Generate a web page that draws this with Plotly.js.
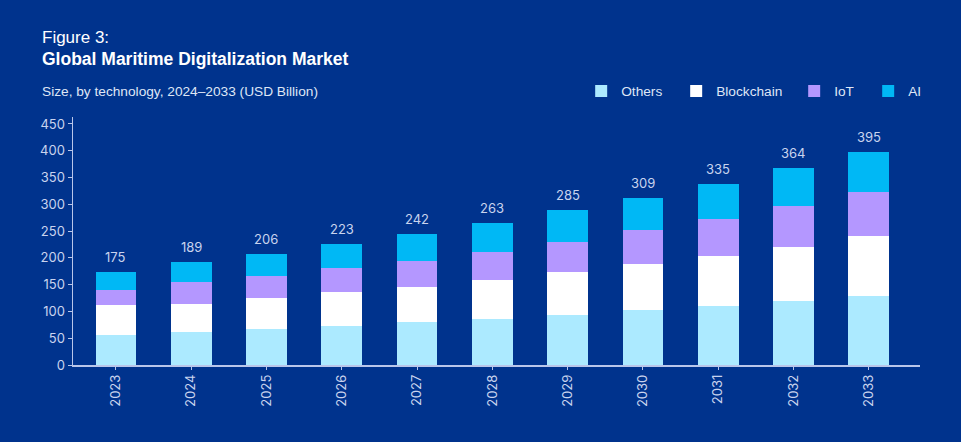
<!DOCTYPE html>
<html>
<head>
<meta charset="utf-8">
<script src="https://cdn.plot.ly/plotly-3.0.1.min.js"></script>
<style>html,body{margin:0;padding:0;background:#00338D;}#chart{width:961px;height:442px;}</style>
</head>
<body>
<div id="chart"></div>
<script>
const years = ['2023','2024','2025','2026','2027','2028','2029','2030','2031','2032','2033'];
const others = [56, 62, 67, 73, 80, 86, 93, 103, 110, 120, 129];
const blockchain = [56, 52, 58, 63, 66, 73, 81, 86, 93, 100, 112];
const iot = [28, 41, 41, 45, 48, 52, 56, 63, 69, 77, 82];
const ai = [34, 37, 41, 45, 51, 54, 59, 60, 65, 71, 75];
const totalLabels = ['175','189','206','223','242','263','285','309','335','364','395'];

const NUMFONT = 'Inter, Liberation Sans, Arial, sans-serif';
const FONT = 'Liberation Sans, Arial, sans-serif';
const TXT = '#c9d3ee';
const LINE = '#b9c6ea';

function bar(name, vals, color, lw) {
  const t = {type: 'bar', name: name, x: years, y: vals,
    marker: {color: color, line: {width: 0}}, hoverinfo: 'skip'};
  if (lw) t.legendwidth = lw;
  return t;
}
const traces = [
  bar('Others', others, '#ACEAFF', 50),
  bar('Blockchain', blockchain, '#FFFFFF', 73),
  bar('IoT', iot, '#B497FF', 29),
  bar('AI', ai, '#00B8F5', 0)
];

const stackTops = years.map((_, i) => others[i] + blockchain[i] + iot[i] + ai[i]);
const annotations = years.map((yr, i) => ({
  x: i, y: stackTops[i], xref: 'x', yref: 'y', text: totalLabels[i],
  showarrow: false, yanchor: 'bottom', yshift: 5,
  font: {family: NUMFONT, size: 13, color: TXT}
}));
const px = v => (v - 73) / 846.7;
const py = v => (365 - v) / 248;
annotations.push(
  {xref: 'paper', yref: 'paper', x: px(40), y: py(38), xanchor: 'left', yanchor: 'middle',
   text: 'Figure 3:', showarrow: false, font: {family: FONT, size: 17, color: '#ffffff'}},
  {xref: 'paper', yref: 'paper', x: px(40), y: py(59), xanchor: 'left', yanchor: 'middle',
   text: '<b>Global Maritime Digitalization Market</b>', showarrow: false, font: {family: FONT, size: 17.5, color: '#ffffff'}},
  {xref: 'paper', yref: 'paper', x: px(40), y: py(91), xanchor: 'left', yanchor: 'middle',
   text: 'Size, by technology, 2024\u20132033 (USD Billion)', showarrow: false, font: {family: FONT, size: 13.7, color: '#dfe6f6'}}
);

const layout = {
  width: 961, height: 442,
  margin: {l: 73, r: 41, t: 117, b: 77},
  paper_bgcolor: '#00338D', plot_bgcolor: '#00338D',
  barmode: 'stack', bargap: 0.46,
  font: {family: FONT, color: TXT},
  showlegend: true,
  legend: {orientation: 'h', x: px(581), xanchor: 'left', y: py(91), yanchor: 'middle',
    traceorder: 'normal', bgcolor: 'rgba(0,0,0,0)', font: {family: FONT, size: 13.7, color: '#dfe6f6'}},
  xaxis: {type: 'category', range: [-0.57, 10.68], showgrid: false, zeroline: false,
    showline: true, linecolor: LINE, linewidth: 1.5, ticks: 'outside', ticklen: 3, tickcolor: LINE,
    tickangle: -90, tickfont: {family: NUMFONT, size: 13, color: TXT}, fixedrange: true},
  yaxis: {range: [0, 463], dtick: 50, tick0: 0, showgrid: false, zeroline: false,
    showline: true, linecolor: LINE, linewidth: 1.5, ticks: 'outside', ticklen: 4, tickcolor: LINE,
    tickfont: {family: NUMFONT, size: 13, color: TXT}, fixedrange: true},
  annotations: annotations
};

Plotly.newPlot('chart', traces, layout, {displayModeBar: false, staticPlot: true});
</script>
</body>
</html>
